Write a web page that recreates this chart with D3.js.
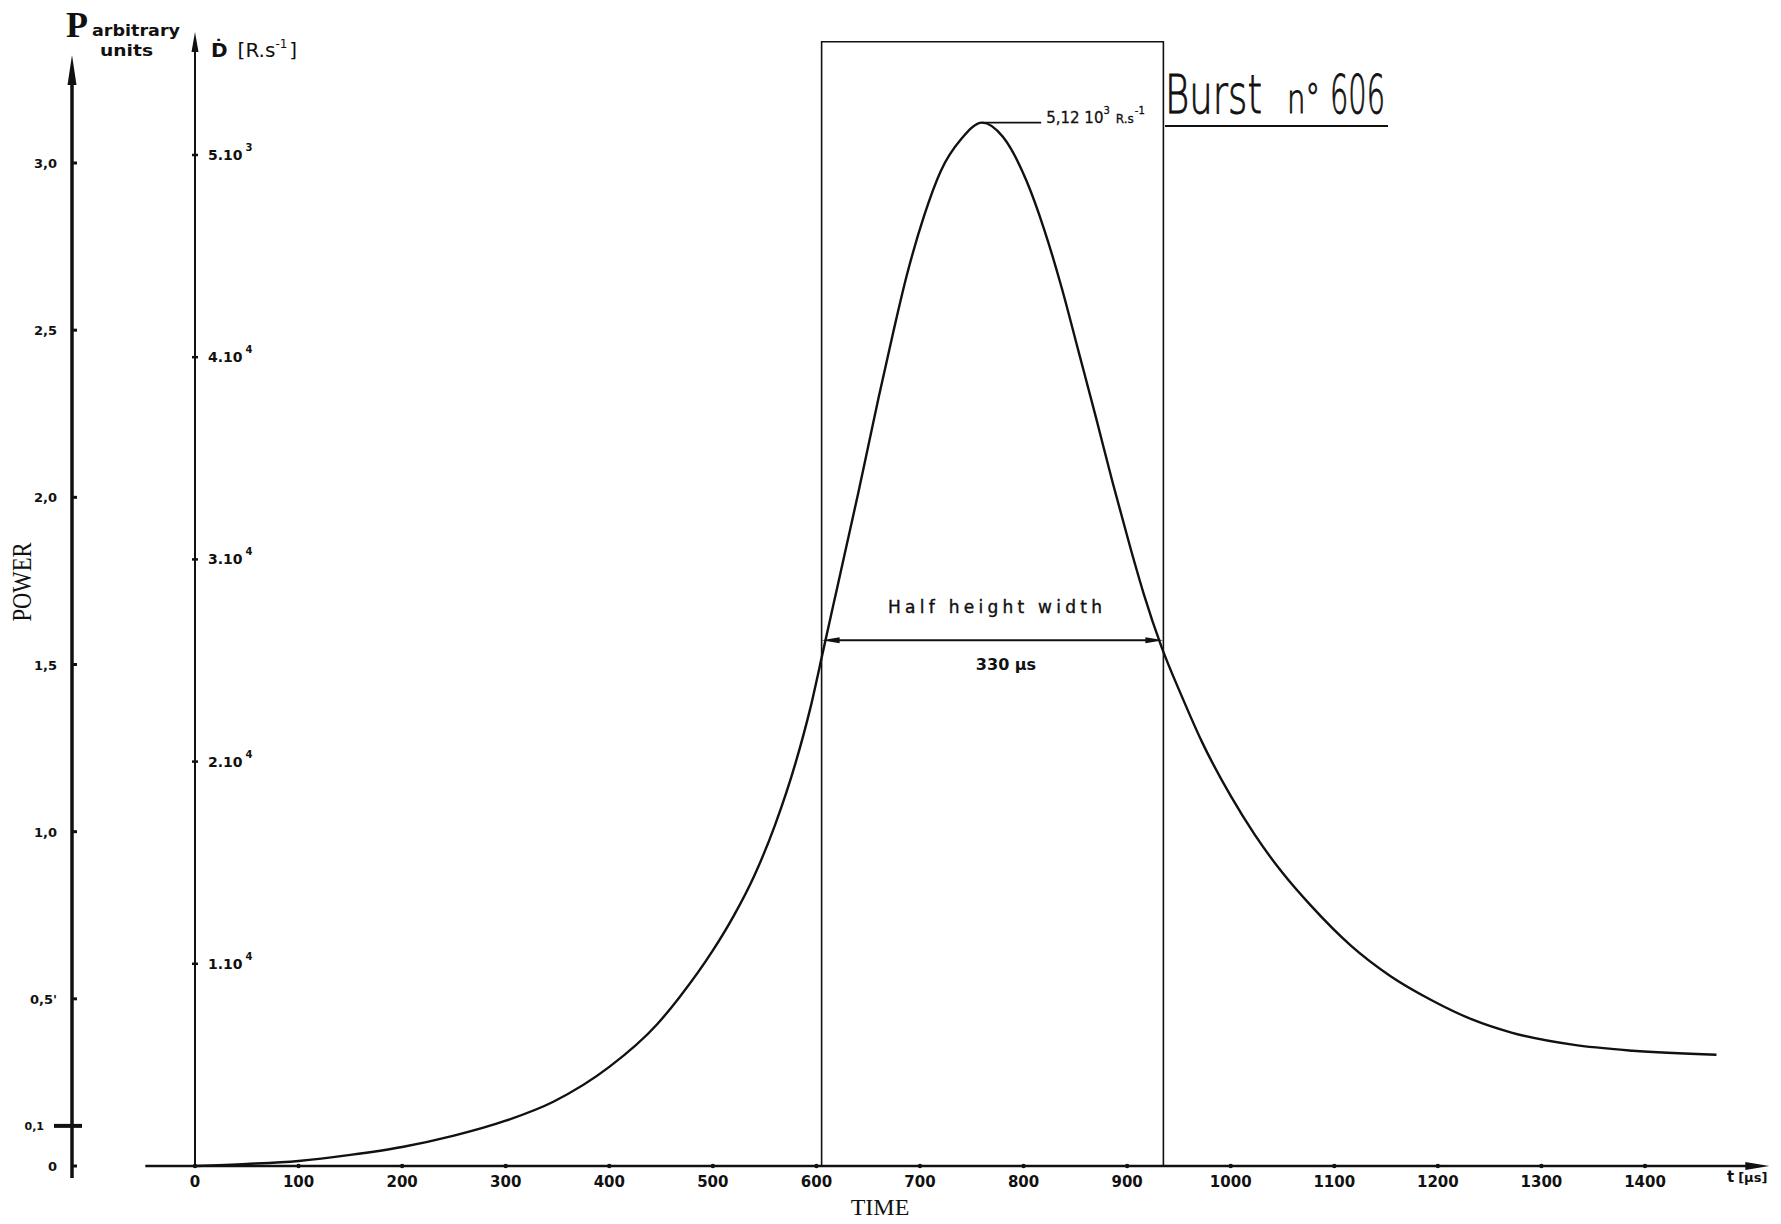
<!DOCTYPE html>
<html>
<head>
<meta charset="utf-8">
<script src="https://cdn.jsdelivr.net/npm/d3@7"></script>
<style>
  body { margin: 0; background: #fff; }
  svg { display: block; }
  .hand { font-family: "DejaVu Sans", sans-serif; font-weight: bold; fill: #111; }
  .thin { font-family: "DejaVu Sans", sans-serif; fill: #111; }
  .serif { font-family: "Liberation Serif", serif; fill: #111; }
</style>
</head>
<body>
<div id="chart"></div>
<script>
// burst n°606 : dose rate vs time
var times = [0, 50, 100, 150, 200, 250, 300, 346, 400, 446, 468, 500, 520, 540, 560, 580,
  594, 607, 617, 627, 640, 650, 660, 674, 687, 704, 720, 740, 760, 780, 803, 820, 837,
  853, 870, 886, 903, 916, 933, 953, 972, 1000, 1023, 1050, 1077, 1116, 1154, 1194,
  1233, 1271, 1330, 1388, 1469];
var doseRate = [0, 0.01, 0.025, 0.055, 0.094, 0.15, 0.224, 0.318, 0.49, 0.70, 0.836, 1.066,
  1.236, 1.436, 1.686, 1.996, 2.262, 2.56, 2.79, 3.02, 3.32, 3.56, 3.80, 4.12, 4.40, 4.70,
  4.92, 5.08, 5.16, 5.09, 4.87, 4.63, 4.34, 4.03, 3.70, 3.38, 3.06, 2.83, 2.57, 2.32,
  2.10, 1.83, 1.64, 1.45, 1.29, 1.09, 0.94, 0.82, 0.725, 0.66, 0.60, 0.57, 0.55];

var timeTicks = [0, 100, 200, 300, 400, 500, 600, 700, 800, 900, 1000, 1100, 1200, 1300, 1400];
var powerTicks = [0, 0.5, 1, 1.5, 2, 2.5, 3];
var powerLabels = ["0", "0,5'", "1,0", "1,5", "2,0", "2,5", "3,0"];
var doseTicks = [1, 2, 3, 4, 5];
var doseLabels = ["1.10", "2.10", "3.10", "4.10", "5.10"];
var doseExps = ["4", "4", "4", "4", "3"];

var halfTimes = [605, 935];   // half height width, 330 µs
var halfLevel = 2.6;          // in 10^4 R/s
var boxTop = 5.56;
var baseMark = 0.12;          // odd mark near the foot of the power axis

var W = 1781, H = 1224;

var x = d3.scaleLinear().domain([0, 1400]).range([195, 1645]);
var yD = d3.scaleLinear().domain([0, 5]).range([1166, 155]);
var yP = d3.scaleLinear().domain([0, 3]).range([1166, 163]);

var svg = d3.select("#chart").append("svg")
  .attr("width", W)
  .attr("height", H);

var ink = "#111";

function arrowHead(g, tipX, tipY, dx, dy, len, half) {
  // filled narrow arrow head, (dx,dy) = unit direction of the tip
  var bx = tipX - dx * len, by = tipY - dy * len;
  var px = -dy * half, py = dx * half;
  g.append("path")
    .attr("d", "M" + tipX + "," + tipY + "L" + (bx + px) + "," + (by + py) +
      "L" + (bx - px) + "," + (by - py) + "Z")
    .attr("fill", ink);
}

// squeeze a text horizontally so it fills a given width (hand lettering is narrow)
function fitText(g, x0, y0, size, width, str) {
  var t = g.append("text")
    .attr("class", "thin")
    .style("font-size", size + "px")
    .style("font-weight", "200")
    .attr("stroke", ink)
    .attr("stroke-width", 0.9)
    .text(str);
  var w = t.node().getComputedTextLength() || width;
  t.attr("transform", "translate(" + x0 + "," + y0 + ") scale(" + (width / w) + ",1)");
  return t;
}

// ---- power axis (left, thick)
var xP = 72;
svg.append("line")
  .attr("x1", xP).attr("x2", xP)
  .attr("y1", 1178).attr("y2", 70)
  .attr("stroke", ink).attr("stroke-width", 3.5);
arrowHead(svg, xP, 55, 0, -1, 30, 4.5);

svg.selectAll(".ptick")
  .data(powerTicks)
  .enter().append("line")
  .attr("class", "ptick")
  .attr("x1", xP).attr("x2", xP + 5)
  .attr("y1", function (d) { return yP(d); })
  .attr("y2", function (d) { return yP(d); })
  .attr("stroke", ink).attr("stroke-width", 3);

svg.selectAll(".plabel")
  .data(powerTicks)
  .enter().append("text")
  .attr("class", "hand plabel")
  .attr("x", 57)
  .attr("y", function (d) { return yP(d) + 5; })
  .attr("text-anchor", "end")
  .style("font-size", "13px")
  .text(function (d, i) { return powerLabels[i]; });

// the blob mark near 0
svg.append("path")
  .attr("d", "M" + (xP - 18) + "," + yP(baseMark) + "L" + (xP + 10) + "," + yP(baseMark))
  .attr("stroke", ink).attr("stroke-width", 4);
svg.append("text")
  .attr("class", "hand")
  .attr("x", 44).attr("y", yP(baseMark) + 4)
  .attr("text-anchor", "end")
  .style("font-size", "11px")
  .text("0,1");

svg.append("text")
  .attr("class", "serif")
  .attr("transform", "translate(31,582) rotate(-90)")
  .attr("text-anchor", "middle")
  .attr("textLength", 79)
  .attr("lengthAdjust", "spacingAndGlyphs")
  .style("font-size", "27px")
  .text("POWER");

svg.append("text")
  .attr("class", "serif")
  .attr("x", 66).attr("y", 37)
  .style("font-size", "36px")
  .style("font-weight", "bold")
  .text("P");
svg.append("text")
  .attr("class", "hand")
  .attr("x", 92).attr("y", 36)
  .attr("textLength", 88)
  .attr("lengthAdjust", "spacingAndGlyphs")
  .style("font-size", "16px")
  .text("arbitrary");
svg.append("text")
  .attr("class", "hand")
  .attr("x", 100).attr("y", 56)
  .attr("textLength", 53)
  .attr("lengthAdjust", "spacingAndGlyphs")
  .style("font-size", "16px")
  .text("units");

// ---- dose rate axis
var xD = x(0);
svg.append("line")
  .attr("x1", xD).attr("x2", xD)
  .attr("y1", yD(0)).attr("y2", 45)
  .attr("stroke", ink).attr("stroke-width", 2);
arrowHead(svg, xD, 32, 0, -1, 20, 3.5);

svg.selectAll(".dtick")
  .data(doseTicks)
  .enter().append("line")
  .attr("class", "dtick")
  .attr("x1", xD - 3).attr("x2", xD + 3)
  .attr("y1", function (d) { return yD(d); })
  .attr("y2", function (d) { return yD(d); })
  .attr("stroke", ink).attr("stroke-width", 2.5);

var dl = svg.selectAll(".dlabel")
  .data(doseTicks)
  .enter().append("text")
  .attr("class", "hand dlabel")
  .attr("x", xD + 13)
  .attr("y", function (d) { return yD(d) + 5; })
  .style("font-size", "14px");
dl.append("tspan").text(function (d, i) { return doseLabels[i]; });
dl.append("tspan")
  .attr("dy", -9)
  .attr("dx", 3)
  .style("font-size", "10px")
  .text(function (d, i) { return doseExps[i]; });

var dt = svg.append("text")
  .attr("class", "thin")
  .attr("x", 211).attr("y", 57)
  .style("font-size", "20px");
dt.append("tspan").style("font-weight", "bold").text("\u1E0A");
dt.append("tspan").attr("dx", 10).text("[R.s");
dt.append("tspan").attr("dy", -9).style("font-size", "12px").text("-1");
dt.append("tspan").attr("dy", 9).attr("dx", 2).text("]");

// ---- time axis
var yAx = yD(0);
svg.append("line")
  .attr("x1", x(-48)).attr("x2", x(1505))
  .attr("y1", yAx).attr("y2", yAx)
  .attr("stroke", ink).attr("stroke-width", 2.5);
arrowHead(svg, x(1520), yAx, 1, 0, 24, 4);

svg.selectAll(".ttick")
  .data(timeTicks)
  .enter().append("circle")
  .attr("class", "ttick")
  .attr("cx", function (d) { return x(d); })
  .attr("cy", yAx)
  .attr("r", 2.2)
  .attr("fill", ink);

svg.selectAll(".tlabel")
  .data(timeTicks)
  .enter().append("text")
  .attr("class", "hand tlabel")
  .attr("x", function (d) { return x(d); })
  .attr("y", yAx + 21)
  .attr("text-anchor", "middle")
  .style("font-size", "15px")
  .text(function (d) { return d; });

var tl = svg.append("text")
  .attr("class", "hand")
  .attr("x", 1727).attr("y", yAx + 16)
  .style("font-size", "15px");
tl.append("tspan").text("t");
tl.append("tspan").attr("dx", 4).style("font-size", "13px").text("[\u00B5s]");

svg.append("text")
  .attr("class", "serif")
  .attr("x", 880).attr("y", 1215)
  .attr("text-anchor", "middle")
  .style("font-size", "24px")
  .text("TIME");

// ---- curve
var pts = times.map(function (t, i) { return [t, doseRate[i]]; });
var line = d3.line()
  .x(function (d) { return x(d[0]); })
  .y(function (d) { return yD(d[1]); })
  .curve(d3.curveMonotoneX);

svg.append("path")
  .datum(pts)
  .attr("d", line)
  .attr("fill", "none")
  .attr("stroke", ink)
  .attr("stroke-width", 2.4)
  .attr("stroke-linejoin", "round");

// ---- half height box
svg.append("path")
  .attr("d", "M" + x(halfTimes[0]) + "," + yAx + "V" + yD(boxTop) +
    "H" + x(halfTimes[1]) + "V" + yAx)
  .attr("fill", "none")
  .attr("stroke", ink)
  .attr("stroke-width", 1.6);

svg.append("line")
  .attr("x1", x(halfTimes[0]) + 10).attr("x2", x(halfTimes[1]) - 10)
  .attr("y1", yD(halfLevel)).attr("y2", yD(halfLevel))
  .attr("stroke", ink).attr("stroke-width", 2);
arrowHead(svg, x(halfTimes[0]), yD(halfLevel), -1, 0, 18, 3);
arrowHead(svg, x(halfTimes[1]), yD(halfLevel), 1, 0, 18, 3);

svg.append("text")
  .attr("class", "thin")
  .attr("x", 995).attr("y", 613)
  .attr("text-anchor", "middle")
  .attr("textLength", 214)
  .attr("lengthAdjust", "spacing")
  .attr("stroke", ink)
  .attr("stroke-width", 0.4)
  .style("font-size", "17px")
  .text("Half height width");

svg.append("text")
  .attr("class", "hand")
  .attr("x", 1006).attr("y", 670)
  .attr("text-anchor", "middle")
  .style("font-size", "16px")
  .text("330 \u00B5s");

// ---- peak annotation
var iMax = d3.maxIndex(doseRate);
svg.append("line")
  .attr("x1", x(times[iMax])).attr("x2", x(817))
  .attr("y1", yD(doseRate[iMax])).attr("y2", yD(doseRate[iMax]))
  .attr("stroke", ink).attr("stroke-width", 1.6);

var pk = svg.append("text")
  .attr("class", "thin")
  .attr("x", x(817) + 5).attr("y", yD(doseRate[iMax]) + 0)
  .attr("stroke", ink)
  .attr("stroke-width", 0.3)
  .style("font-size", "15px");
pk.append("tspan").text("5,12  10");
pk.append("tspan").attr("dy", -9).style("font-size", "10px").text("3");
pk.append("tspan").attr("dy", 9).attr("dx", 6).style("font-size", "12px").text("R.s");
pk.append("tspan").attr("dy", -9).attr("dx", 1).style("font-size", "10px").text("-1");

// ---- title
var title = svg.append("g");
fitText(title, 1165, 113, 54, 97, "Burst");
fitText(title, 1287, 113, 40, 33, "n\u00B0");
fitText(title, 1330, 113, 54, 55, "606");
svg.append("line")
  .attr("x1", 1165).attr("x2", 1388)
  .attr("y1", 126).attr("y2", 126)
  .attr("stroke", ink).attr("stroke-width", 2);
</script>
</body>
</html>
